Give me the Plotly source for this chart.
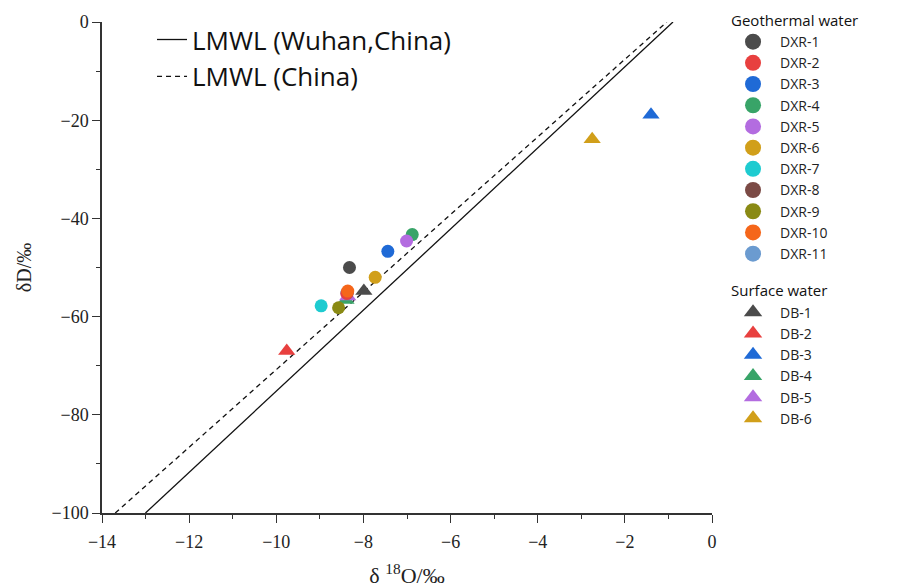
import plotly.graph_objects as go

# Geothermal water samples (delta 18O, delta D, per mil)
dxr_names = ["DXR-1", "DXR-2", "DXR-3", "DXR-4", "DXR-5", "DXR-6",
             "DXR-7", "DXR-8", "DXR-9", "DXR-10", "DXR-11"]
dxr_o18 = [-8.32, -8.38, -7.44, -6.88, -7.01, -7.73, -8.97, -8.37, -8.57, -8.36, -8.38]
dxr_d = [-50.0, -55.3, -46.7, -43.3, -44.6, -52.0, -57.8, -55.2, -58.2, -54.8, -55.2]
dxr_colors = ["#4b4b4b", "#e8403f", "#1f6ad6", "#38a468", "#b36ce0", "#d19f1a",
              "#1ecbd0", "#7b4a45", "#8a8a14", "#f5661a", "#6b9bd0"]

# Surface water samples
db_names = ["DB-1", "DB-2", "DB-3", "DB-4", "DB-5", "DB-6"]
db_o18 = [-7.99, -9.76, -1.40, -8.40, -8.36, -2.75]
db_d = [-54.8, -67.0, -18.9, -56.6, -55.9, -23.9]
db_colors = ["#4b4b4b", "#e8403f", "#1f6ad6", "#38a468", "#b36ce0", "#d19f1a"]

# Local meteoric water lines: delta D = slope * delta 18O + intercept
lmwl_names = ["LMWL (Wuhan,China)", "LMWL (China)"]
lmwl_slope = [8.26, 7.9]
lmwl_intercept = [7.4, 8.2]
lmwl_dash = ["solid", "5px,4px"]

x_ticks = [-14, -12, -10, -8, -6, -4, -2, 0]
y_ticks = [-100, -80, -60, -40, -20, 0]

serif = "Liberation Serif"
sans = "Open Sans"
group_font = dict(family=sans, size=15, color="#111")

fig = go.Figure()

# meteoric water lines, clipped to the delta D range of the plot
d_range = [-100, 0]
for name, k, b, dash in zip(lmwl_names, lmwl_slope, lmwl_intercept, lmwl_dash):
    xs = [(d - b) / k for d in d_range]
    fig.add_trace(go.Scatter(
        x=xs, y=d_range, mode="lines", name=name, legend="legend2",
        line=dict(color="#111111", width=1.3, dash=dash),
        hoverinfo="skip",
    ))

# surface water drawn first so geothermal circles sit on top
for name, x, y, c in zip(db_names, db_o18, db_d, db_colors):
    fig.add_trace(go.Scatter(
        x=[x], y=[y], mode="markers", name=name, showlegend=False,
        marker=dict(symbol="triangle-up", size=15, color=c, line=dict(width=0)),
    ))

# overlapping circles: DXR-8 and DXR-11 lie beneath DXR-2 / DXR-10
draw_order = [7, 10, 0, 1, 2, 3, 4, 5, 6, 8, 9]
for i in draw_order:
    fig.add_trace(go.Scatter(
        x=[dxr_o18[i]], y=[dxr_d[i]], mode="markers", name=dxr_names[i], showlegend=False,
        marker=dict(symbol="circle", size=13, color=dxr_colors[i], line=dict(width=0)),
    ))

# legend keys with larger symbols (no points of their own)
for name, c in zip(dxr_names, dxr_colors):
    fig.add_trace(go.Scatter(
        x=[None], y=[None], mode="markers", name=name,
        legendgroup="geo", legendgrouptitle=dict(text="Geothermal water", font=group_font),
        marker=dict(symbol="circle", size=20, color=c, line=dict(width=0)),
    ))
for name, c in zip(db_names, db_colors):
    fig.add_trace(go.Scatter(
        x=[None], y=[None], mode="markers", name=name,
        legendgroup="surface", legendgrouptitle=dict(text="Surface water", font=group_font),
        marker=dict(symbol="triangle-up", size=20, color=c, line=dict(width=0)),
    ))

axis_common = dict(
    showgrid=False, zeroline=False, showline=True,
    linecolor="#333333", linewidth=1.5, mirror=False,
    ticks="outside", ticklen=8, tickwidth=1.3, tickcolor="#333333",
    tickfont=dict(family=serif, size=18, color="#222"),
)

fig.update_xaxes(
    range=[-14, 0], tickvals=x_ticks, ticktext=[f"\u2212{abs(v)}" if v < 0 else str(v) for v in x_ticks],
    minor=dict(dtick=1, ticks="outside", ticklen=4, tickcolor="#333333", tickwidth=1.2),
    ticklabelstandoff=4,
    title=dict(text="\u03b4 <sup>18</sup>O/\u2030", font=dict(family=serif, size=22, color="#222"), standoff=16),
    **axis_common,
)
fig.update_yaxes(
    range=[-100, 0], tickvals=y_ticks, ticktext=[f"\u2212{abs(v)}" if v < 0 else str(v) for v in y_ticks],
    minor=dict(dtick=10, ticks="outside", ticklen=4, tickcolor="#333333", tickwidth=1.2),
    title=dict(text="\u03b4D/\u2030", font=dict(family=serif, size=20, color="#222"), standoff=14),
    **axis_common,
)

fig.update_layout(
    width=904, height=588,
    margin=dict(l=102, r=192, t=22, b=75, autoexpand=False),
    plot_bgcolor="white", paper_bgcolor="white",
    legend=dict(
        x=1.023, xanchor="left", yref="container", y=0.994, yanchor="top",
        maxheight=1.0,
        font=dict(family=sans, size=14, color="#222"),
        itemsizing="trace", itemwidth=44, tracegroupgap=15,
        bgcolor="rgba(0,0,0,0)",
    ),
    legend2=dict(
        x=0.082, xanchor="left", y=1.012, yanchor="top",
        font=dict(family=sans, size=26, color="#111"),
        bgcolor="rgba(0,0,0,0)",
    ),
)

fig.write_html("out.html")
